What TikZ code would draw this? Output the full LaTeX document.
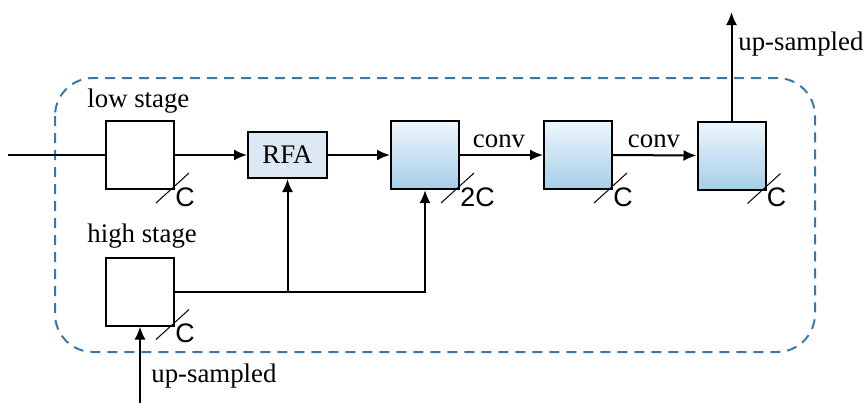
\documentclass[tikz,border=0pt]{standalone}
\usepackage{fontspec}
\setmainfont{Liberation Serif}
\newfontfamily\chfont{Liberation Sans}
\usetikzlibrary{arrows.meta}
\definecolor{frameblue}{HTML}{3A78A8}
\definecolor{rfafill}{HTML}{DCE8F4}
\definecolor{gradtop}{HTML}{EEF6FB}
\definecolor{gradbot}{HTML}{A6CEEA}
\tikzset{
  blk/.style={draw=black, line width=1pt, minimum width=34pt, minimum height=34pt, inner sep=0pt},
  plainblk/.style={blk, fill=white},
  featblk/.style={blk, top color=gradtop, bottom color=gradbot},
  rfablk/.style={draw=black, line width=1pt, fill=rfafill, minimum width=39.5pt, minimum height=23pt, inner sep=0pt},
  conn/.style={line width=1pt, -{Latex[length=6.5pt,width=5.5pt]}},
  slash/.style={line width=0.5pt},
  chan/.style={anchor=west, inner sep=0pt, font=\chfont\fontsize{13.4}{15}\selectfont},
  lbl/.style={inner sep=0pt, font=\fontsize{13.4}{15}\selectfont},
  frame/.style={draw=frameblue, line width=1pt, dash pattern=on 5pt off 3.5pt, rounded corners=19pt}
}
\begin{document}
\begin{tikzpicture}[x=0.5pt, y=-0.5pt]
\useasboundingbox (0,0) rectangle (867,403);

% dashed enclosure
\draw[frame] (55,78) rectangle (815,352);

% blocks
\node[plainblk] (low) at (140,155) {};
\node[plainblk] (high) at (140,291.5) {};
\node[rfablk, font=\fontsize{13.4}{15}\selectfont] (rfa) at (287.5,155) {RFA};
\node[featblk] (b1) at (425,155) {};
\node[featblk] (b2) at (578,155) {};
\node[featblk] (b3) at (731.5,155.5) {};

% labels
\node[lbl, anchor=base west] (lowlbl) at (87,107) {low stage};
\node[lbl, anchor=base west] (highlbl) at (87,242) {high stage};
\node[lbl, anchor=base] (conv1) at (499,147) {conv};
\node[lbl, anchor=base] (conv2) at (654,147) {conv};
\node[lbl, anchor=base west] (uptop) at (738,50) {up-sampled};
\node[lbl, anchor=base west] (upbot) at (151,382) {up-sampled};

% free ends
\coordinate (inleft) at (8,155);
\coordinate (inbot) at (140,403);
\coordinate (outtop) at (731.5,12);

% connectors
\draw[line width=0.7pt] (inleft) -- (low.west);
\draw[conn] (low.east) -- (rfa.west);
\draw[conn] (rfa.east) -- (b1.west);
\draw[conn] (b1.east) -- (b2.west);
\draw[conn] (b2.east) -- (b3.west);
\draw[conn] (b3.north) -- (outtop);
\draw[conn] (inbot) -- (high.south);
\draw[conn] (high.east) -| (b1.south);
\draw[conn] (high.east -| rfa.south) -- (rfa.south);

% channel marks
\foreach \b/\t in {low/C, high/C, b1/2C, b2/C, b3/C}{
  \draw[slash] ([shift={(-19,13)}]\b.south east) -- ([shift={(14,-17)}]\b.south east);
  \node[chan] at ([shift={(0,7)}]\b.south east) {\t};
}
\end{tikzpicture}
\end{document}
